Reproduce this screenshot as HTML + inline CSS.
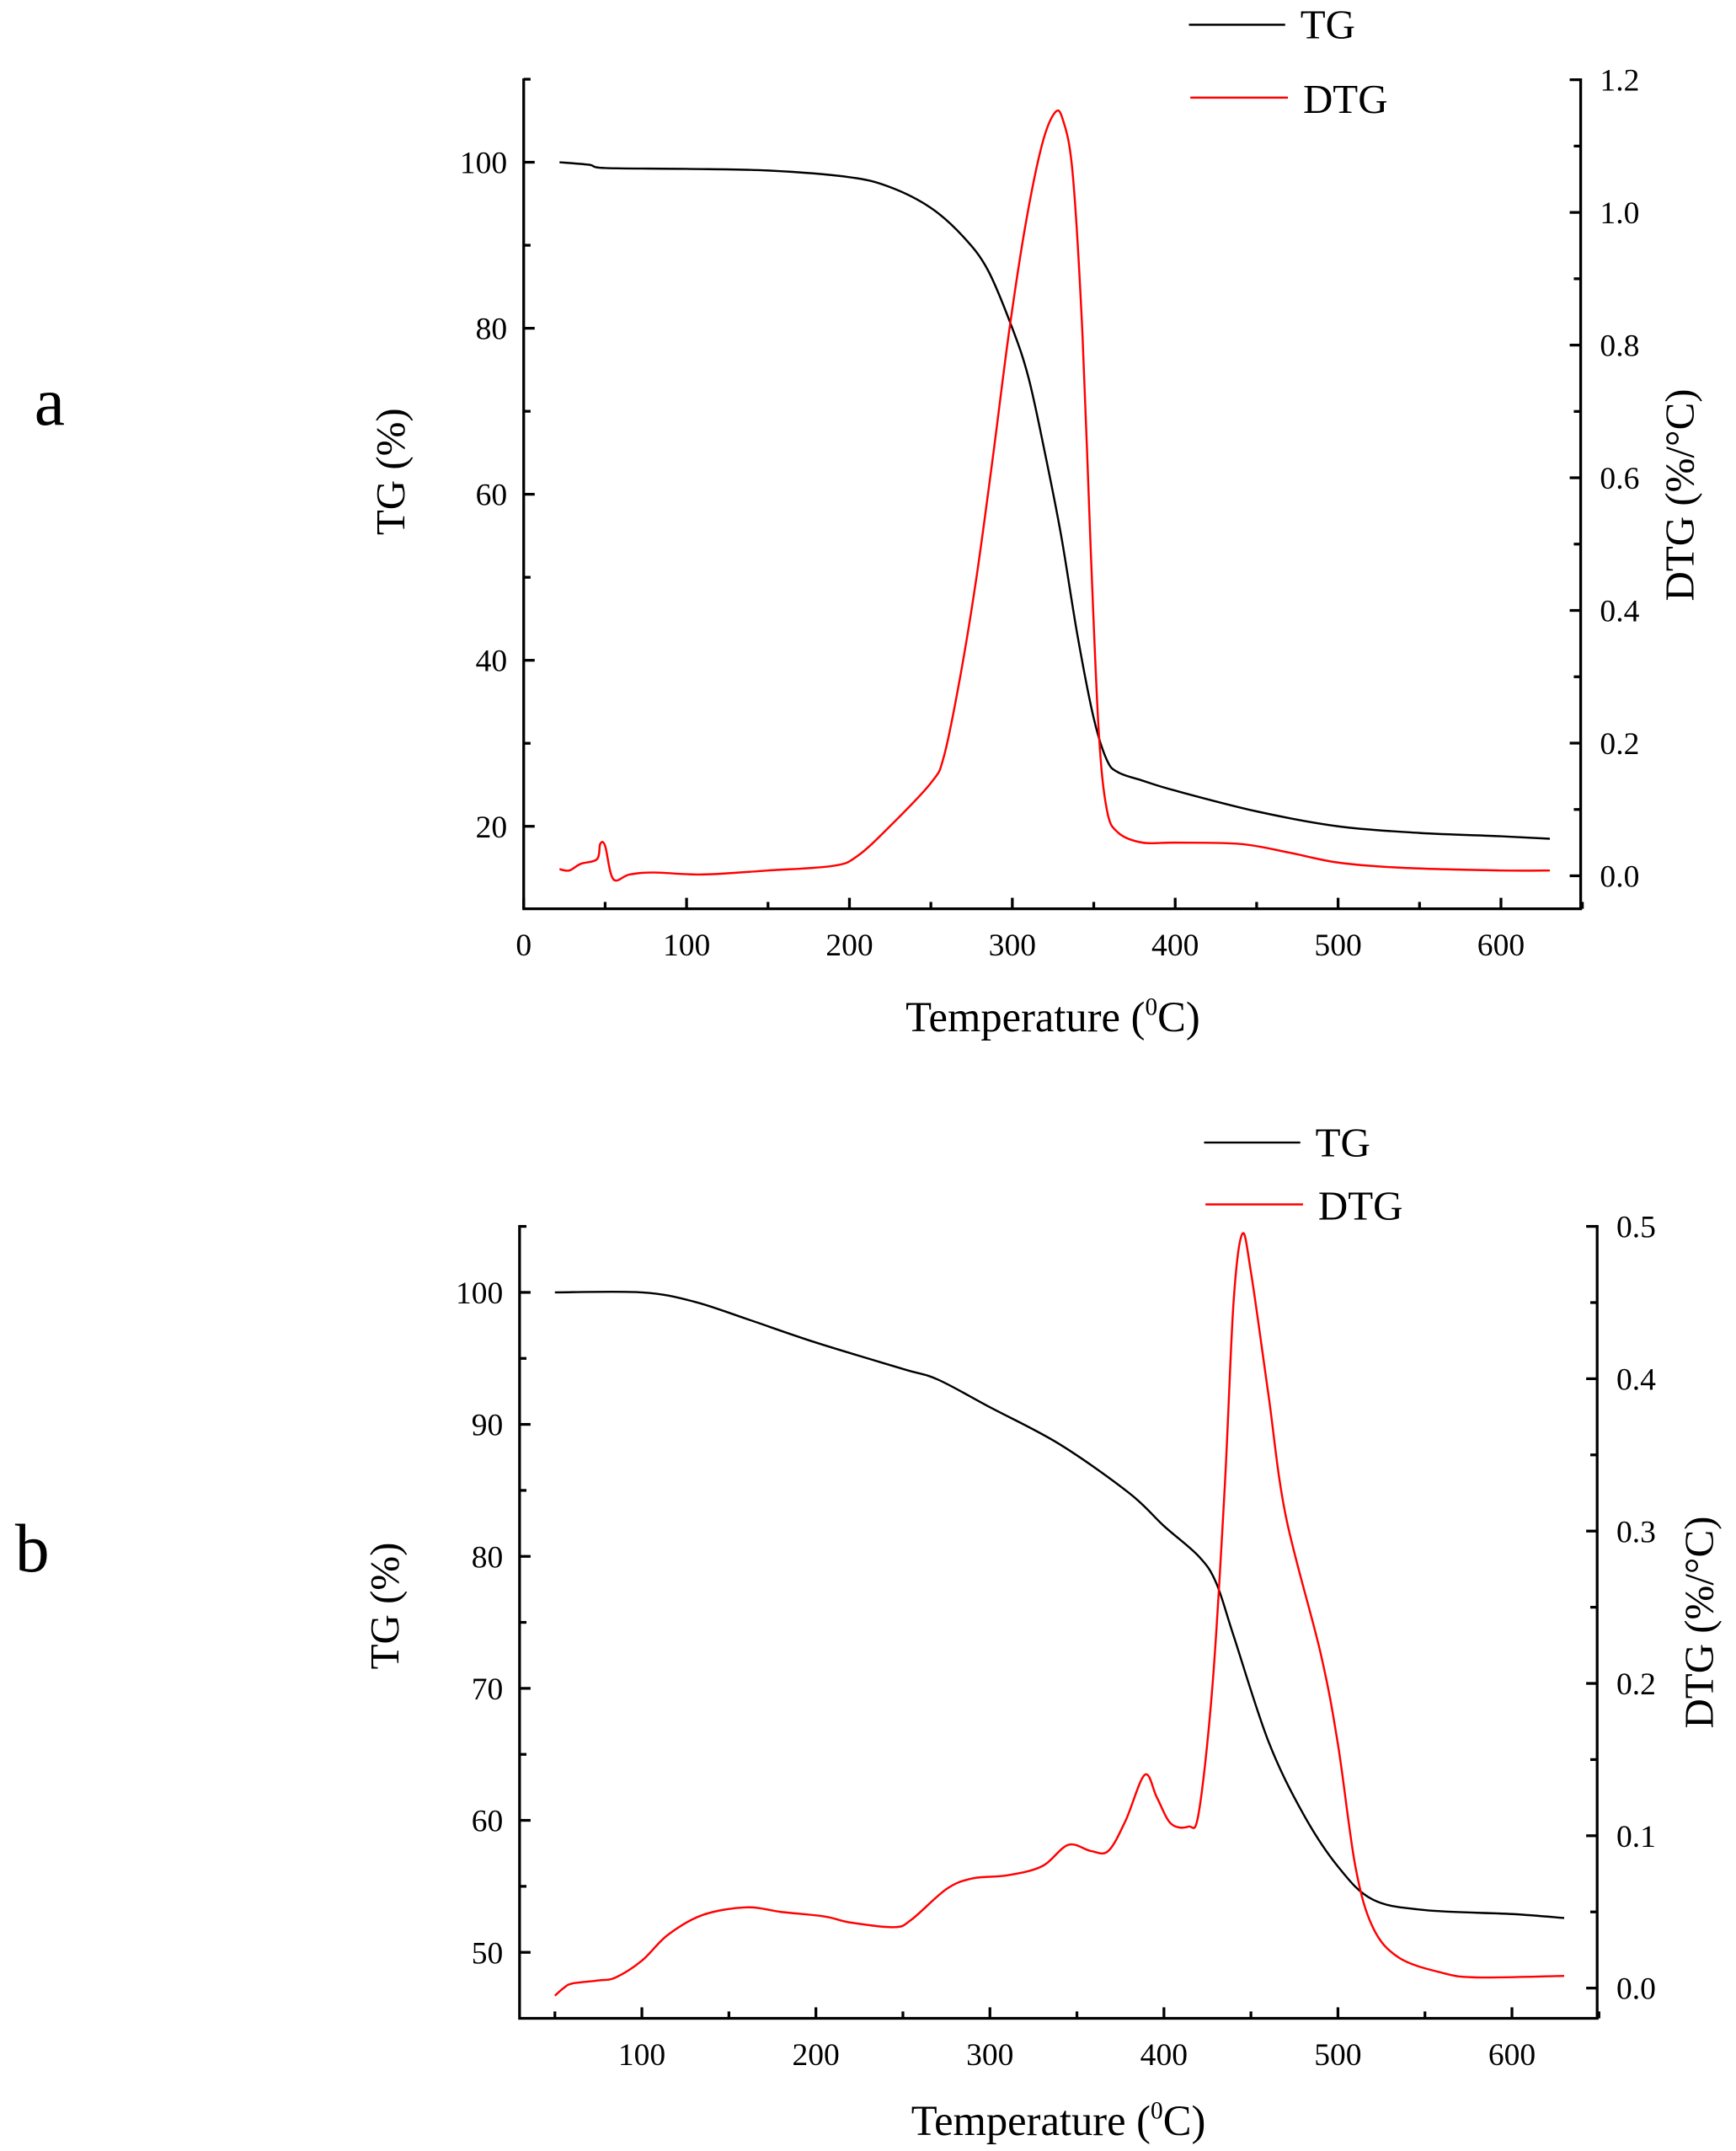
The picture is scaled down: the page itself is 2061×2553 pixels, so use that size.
<!DOCTYPE html>
<html><head><meta charset="utf-8">
<style>html,body{margin:0;padding:0;background:#fff}svg{display:block}
text{font-family:"Liberation Serif",serif;fill:#000}</style></head>
<body>
<svg id="s" width="2061" height="2553" viewBox="0 0 1263 1564.5" preserveAspectRatio="none" xmlns="http://www.w3.org/2000/svg">
<g id="g"></g>
<text x="25" y="309" font-size="50">a</text>
<text x="11" y="1143" font-size="50">b</text>
</svg>
<script>
const g=document.getElementById('g');let h='';
function cr(pts){let d='M'+pts[0][0]+','+pts[0][1];for(let i=0;i<pts.length-1;i++){const p0=pts[Math.max(i-1,0)],p1=pts[i],p2=pts[i+1],p3=pts[Math.min(i+2,pts.length-1)];
d+=' C'+(p1[0]+(p2[0]-p0[0])/6)+','+(p1[1]+(p2[1]-p0[1])/6)+' '+(p2[0]-(p3[0]-p1[0])/6)+','+(p2[1]-(p3[1]-p1[1])/6)+' '+p2[0]+','+p2[1];}return d;}
function chart(c){
 const {L,R,T,B,X,TGy,DTy}=c;
 h+=`<rect x="${L}" y="${T}" width="${R-L}" height="${B-T}" fill="none" stroke="#000" stroke-width="2"/>`;
 h+=`<line x1="${L+1}" y1="${T}" x2="${R-1}" y2="${T}" stroke="#fff" stroke-width="3"/>`;
 for(const t of c.xt){const x=X(t),maj=t%100==0;h+=`<line x1="${x}" y1="${B}" x2="${x}" y2="${B-(maj?8:5)}" stroke="#000" stroke-width="2"/>`;
  if(maj)h+=`<text x="${x}" y="${B+34}" font-size="23" text-anchor="middle">${t}</text>`;}
 for(const v of c.lt){const y=TGy(v),maj=c.lmaj(v);h+=`<line x1="${L}" y1="${y}" x2="${L+(maj?8:5)}" y2="${y}" stroke="#000" stroke-width="2"/>`;
  if(maj)h+=`<text x="${L-12}" y="${y+8}" font-size="23" text-anchor="end">${v}</text>`;}
 for(const v of c.rt){const y=DTy(v),maj=c.rmaj(v);h+=`<line x1="${R}" y1="${y}" x2="${R-(maj?8:5)}" y2="${y}" stroke="#000" stroke-width="2"/>`;
  if(maj)h+=`<text x="${R+14}" y="${y+8}" font-size="23">${v.toFixed(1)}</text>`;}
 h+=`<path d="${cr(c.tg.map(p=>[X(p[0]),TGy(p[1])]))}" fill="none" stroke="#000" stroke-width="1.5"/>`;
 h+=`<path d="${cr(c.dtg.map(p=>[X(p[0]),DTy(p[1])]))}" fill="none" stroke="#f00" stroke-width="1.5"/>`;
 const lg=c.lg;
 h+=`<line x1="${lg[0]}" y1="${lg[1]}" x2="${lg[0]+70}" y2="${lg[1]}" stroke="#000" stroke-width="1.5"/><text x="${lg[0]+81}" y="${lg[1]+10}" font-size="30">TG</text>`;
 h+=`<line x1="${lg[0]+1}" y1="${lg[2]}" x2="${lg[0]+72}" y2="${lg[2]}" stroke="#f00" stroke-width="1.5"/><text x="${lg[0]+83}" y="${lg[2]+11}" font-size="30">DTG</text>`;
 const [tx,ty]=c.tl;h+=`<text transform="translate(${tx},${ty}) rotate(-90)" font-size="30" text-anchor="middle">TG (%)</text>`;
 const [rx,ry]=c.rl;h+=`<text transform="translate(${rx},${ry}) rotate(-90)" font-size="30" text-anchor="middle">DTG (%/°C)</text>`;
 const [xx,xy]=c.xl;h+=`<text x="${xx}" y="${xy}" font-size="31" text-anchor="middle">Temperature (<tspan font-size="18" dy="-12">0</tspan><tspan dy="12">C)</tspan></text>`;
}
const rng=(a,b,s)=>{const r=[];for(let v=a;v<=b+1e-9;v+=s)r.push(Math.round(v*1000)/1000);return r;};
chart({L:381,R:1150,T:58,B:661,X:t=>381+t*1.185,TGy:v=>118+(100-v)*6.0375,DTy:d=>637-d*482.5,
 xt:rng(0,650,50),lt:rng(20,110,10),lmaj:v=>v%20==0,rt:rng(0,1.2,0.1),rmaj:v=>Math.round(v*10)%2==0,
 tg:[[22,100],[40,99.7],[50,99.3],[100,99.2],[150,99],[200,98.2],[225,97],[250,94.5],[270,91],[285,87],[300,80],[310,74],[320,65],[330,55],[340,43],[350,33],[358,28],[365,26.5],[380,25.5],[400,24.3],[450,21.8],[500,20],[550,19.2],[600,18.8],[630,18.5]],
 dtg:[[22,0.01],[28,0.008],[35,0.018],[45,0.025],[47,0.048],[50,0.045],[55,-0.005],[65,0.002],[80,0.005],[110,0.002],[150,0.008],[190,0.015],[205,0.03],[225,0.075],[250,0.14],[258,0.18],[268,0.3],[278,0.45],[288,0.63],[298,0.82],[308,0.98],[318,1.1],[326,1.15],[331,1.14],[337,1.06],[343,0.82],[348,0.5],[353,0.22],[358,0.1],[365,0.065],[380,0.05],[400,0.05],[440,0.048],[470,0.035],[500,0.02],[540,0.012],[600,0.008],[630,0.008]],
 lg:[865,18,71],tl:[294,343],rl:[1232,360],xl:[766,750]});
chart({L:378,R:1162,T:892,B:1468,X:t=>340.4+t*1.266,TGy:v=>940+(100-v)*9.6,DTy:d=>1446-d*1108,
 xt:rng(50,650,50),lt:rng(50,105,5),lmaj:v=>v%10==0,rt:rng(0,0.5,0.05),rmaj:v=>Math.round(v*100)%10==0,
 tg:[[50,100],[100,100],[130,99.3],[160,98],[200,96.2],[250,94.2],[270,93.4],[300,91.3],[340,88.5],[380,84.8],[400,82.3],[420,80],[430,78],[440,74],[460,66],[480,60.5],[500,56.5],[520,54],[550,53.2],[600,52.9],[630,52.6]],
 dtg:[[50,-0.005],[55,0],[60,0.003],[75,0.005],[85,0.007],[100,0.018],[115,0.035],[135,0.048],[160,0.053],[180,0.05],[205,0.047],[220,0.043],[245,0.04],[255,0.045],[275,0.065],[290,0.072],[310,0.074],[330,0.08],[345,0.094],[358,0.09],[368,0.09],[378,0.11],[389,0.14],[396,0.125],[404,0.108],[414,0.106],[420,0.115],[428,0.2],[435,0.33],[440,0.45],[445,0.495],[450,0.47],[460,0.39],[470,0.31],[490,0.22],[500,0.16],[510,0.08],[520,0.04],[535,0.02],[560,0.01],[580,0.007],[630,0.008]],
 lg:[876,831,876],tl:[290,1168],rl:[1246,1180],xl:[770,1553]});
g.innerHTML=h;
</script>
</body></html>
